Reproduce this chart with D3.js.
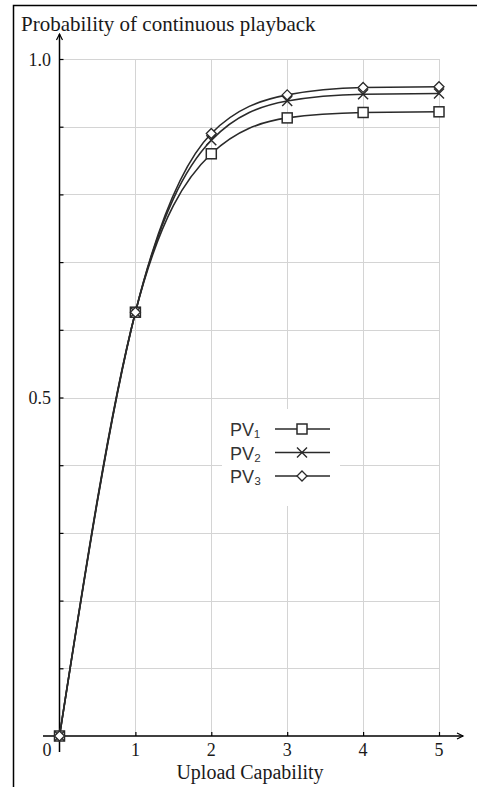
<!DOCTYPE html>
<html>
<head>
<meta charset="utf-8">
<script src="https://cdn.jsdelivr.net/npm/d3@7"></script>
<style>
  html, body { margin: 0; padding: 0; background: #fff; }
  svg { display: block; }
</style>
</head>
<body>
<svg id="chart" width="477" height="787"></svg>
<script>
// ---- data ----
const xValues = [0, 1, 2, 3, 4, 5];
const pv1 = [0, 0.626, 0.860, 0.913, 0.921, 0.922];
const pv2 = [0, 0.626, 0.880, 0.938, 0.948, 0.949];
const pv3 = [0, 0.626, 0.890, 0.947, 0.958, 0.959];
const seriesNames = ["PV₁", "PV₂", "PV₃"];
const seriesMarkers = ["square", "cross", "diamond"];
const xTickValues = [1, 2, 3, 4, 5];
const yGridValues = [0.1, 0.2, 0.3, 0.4, 0.5, 0.6, 0.7, 0.8, 0.9, 1.0];
const yLabelValues = [0.5, 1.0];
const titleText = "Probability of continuous playback";
const xLabelText = "Upload Capability";

// ---- layout ----
const svg = d3.select("#chart");
const x = d3.scaleLinear().domain([0, 5]).range([59.5, 439]);
const y = d3.scaleLinear().domain([0, 1]).range([736, 59]);
const serif = "'Liberation Serif','Times New Roman',serif";
const sans = "'Liberation Sans',Arial,sans-serif";
const lineColor = "#2a2a2a";
const gridColor = "#d4d4d4";
const textColor = "#1a1a1a";

// frame (left and top border)
svg.append("path")
  .attr("d", "M13.5,787 L13.5,5.5 L477,5.5")
  .attr("fill", "none").attr("stroke", "#000").attr("stroke-width", 1.5);

// gridlines
const grid = svg.append("g");
grid.selectAll("line.h").data(yGridValues).join("line")
  .attr("x1", x(0)).attr("x2", x(5))
  .attr("y1", d => Math.round(y(d)) + 0.5).attr("y2", d => Math.round(y(d)) + 0.5)
  .attr("stroke", gridColor).attr("stroke-width", 1);
grid.selectAll("line.v").data(xTickValues).join("line")
  .attr("x1", d => Math.round(x(d)) + 0.5).attr("x2", d => Math.round(x(d)) + 0.5)
  .attr("y1", y(1)).attr("y2", y(0))
  .attr("stroke", gridColor).attr("stroke-width", 1);

// axes via d3 axis generators (styled)
const yAxis = d3.axisRight(y).tickValues(yGridValues.concat([0])).tickSize(4).tickFormat("");
const yg = svg.append("g").attr("transform", `translate(${x(0)},0)`).call(yAxis);
yg.select(".domain").remove();
yg.selectAll(".tick line").attr("stroke", "#000").attr("stroke-width", 1.2);

const xAxis = d3.axisTop(x).tickValues(xTickValues).tickSize(4).tickFormat("");
const xg = svg.append("g").attr("transform", `translate(0,${y(0)})`).call(xAxis);
xg.select(".domain").remove();
xg.selectAll(".tick line").attr("stroke", "#000").attr("stroke-width", 1.2);

// axis lines with arrows
svg.append("line").attr("x1", x(0)).attr("x2", x(0)).attr("y1", 752).attr("y2", 34)
  .attr("stroke", "#000").attr("stroke-width", 1.5);
svg.append("path").attr("d", `M${x(0)-3},${40} L${x(0)},${34} L${x(0)+3},${40}`)
  .attr("fill", "none").attr("stroke", "#000").attr("stroke-width", 1.2);
svg.append("line").attr("x1", 43).attr("x2", 463).attr("y1", y(0)).attr("y2", y(0))
  .attr("stroke", "#000").attr("stroke-width", 1.5);
svg.append("path").attr("d", `M${457},${y(0)-3} L${463},${y(0)} L${457},${y(0)+3}`)
  .attr("fill", "none").attr("stroke", "#000").attr("stroke-width", 1.2);

// tick labels
svg.selectAll("text.ylab").data(yLabelValues).join("text")
  .attr("x", 51).attr("y", d => y(d) + 6.5)
  .attr("text-anchor", "end").attr("font-family", serif).attr("font-size", 18)
  .attr("fill", textColor)
  .text(d => d3.format(".1f")(d));
svg.selectAll("text.xlab").data(xTickValues).join("text")
  .attr("x", d => x(d)).attr("y", 756)
  .attr("text-anchor", "middle").attr("font-family", serif).attr("font-size", 18)
  .attr("fill", textColor)
  .text(d => d);
svg.append("text").attr("x", 47).attr("y", 756).attr("text-anchor", "middle")
  .attr("font-family", serif).attr("font-size", 18).attr("fill", textColor).text("0");

// titles
svg.append("text").attr("x", 21).attr("y", 31)
  .attr("font-family", serif).attr("font-size", 21).attr("fill", textColor)
  .text(titleText);
svg.append("text").attr("x", 250).attr("y", 779).attr("text-anchor", "middle")
  .attr("font-family", serif).attr("font-size", 20).attr("fill", textColor)
  .text(xLabelText);

// series
const seriesData = [pv1, pv2, pv3];
const line = d3.line().x(d => x(d[0])).y(d => y(d[1])).curve(d3.curveMonotoneX);

function drawMarker(g, type, cx, cy) {
  if (type === "square") {
    g.append("rect").attr("x", cx - 5).attr("y", cy - 5).attr("width", 10).attr("height", 10)
      .attr("fill", "#fff").attr("stroke", lineColor).attr("stroke-width", 1.5);
  } else if (type === "cross") {
    g.append("path").attr("d", `M${cx-5},${cy-5} L${cx+5},${cy+5} M${cx-5},${cy+5} L${cx+5},${cy-5}`)
      .attr("fill", "none").attr("stroke", lineColor).attr("stroke-width", 1.4);
  } else {
    g.append("path").attr("d", `M${cx},${cy-5} L${cx+5},${cy} L${cx},${cy+5} L${cx-5},${cy} Z`)
      .attr("fill", "#fff").attr("stroke", lineColor).attr("stroke-width", 1.3);
  }
}

const lines = svg.append("g");
seriesData.forEach(vals => {
  const pts = xValues.map((xv, i) => [xv, vals[i]]);
  lines.append("path").datum(pts).attr("d", line)
    .attr("fill", "none").attr("stroke", lineColor).attr("stroke-width", 1.6);
});
const markers = svg.append("g");
seriesData.forEach((vals, s) => {
  xValues.forEach((xv, i) => drawMarker(markers, seriesMarkers[s], x(xv), y(vals[i])));
});

// legend
const legend = svg.append("g");
legend.append("rect").attr("x", 222).attr("y", 409).attr("width", 118).attr("height", 97).attr("fill", "#fff");
seriesNames.forEach((name, i) => {
  const cy = 429 + i * 23.5;
  legend.append("text").attr("x", 230).attr("y", cy + 7)
    .attr("font-family", sans).attr("font-size", 18).attr("fill", "#333").text(name);
  legend.append("line").attr("x1", 275).attr("x2", 330).attr("y1", cy).attr("y2", cy)
    .attr("stroke", lineColor).attr("stroke-width", 1.5);
  drawMarker(legend, seriesMarkers[i], 302, cy);
});
</script>
</body>
</html>
